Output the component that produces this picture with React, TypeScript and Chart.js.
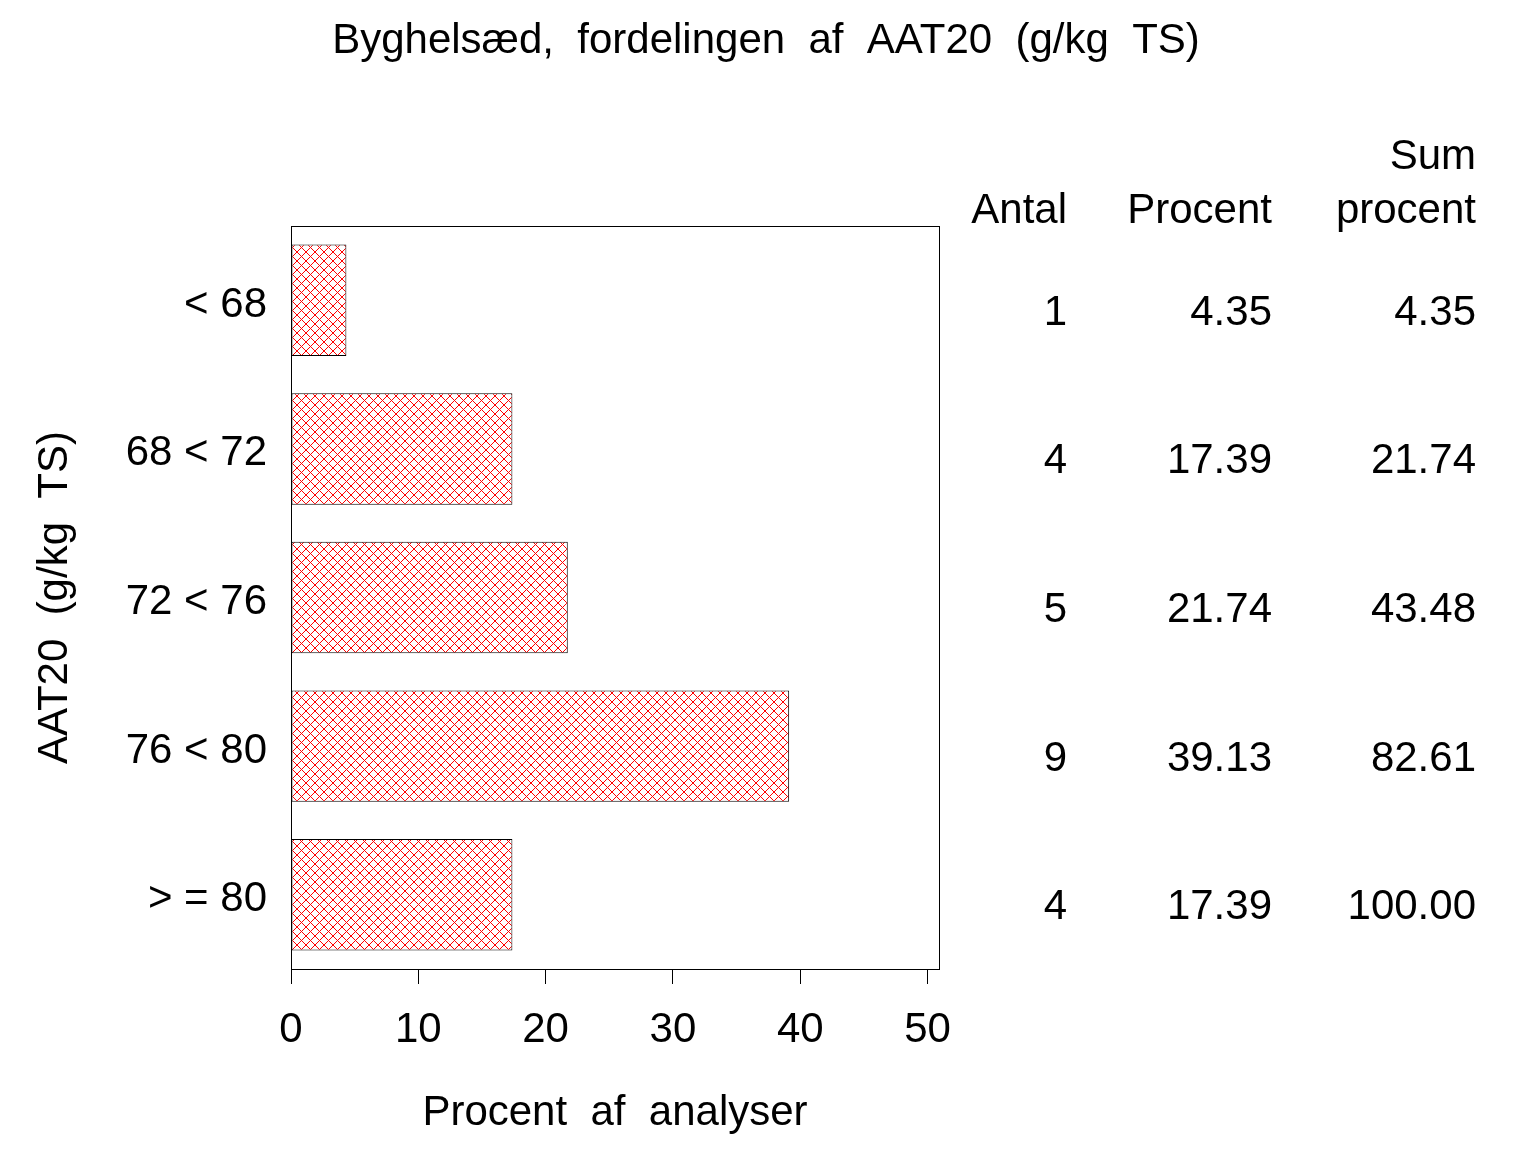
import { useEffect, useRef } from "react"
import { Chart, registerables } from "chart.js"

Chart.register(...registerables)

const categories = ["< 68", "68 < 72", "72 < 76", "76 < 80", "> = 80"]
const percent = [4.35, 17.39, 21.74, 39.13, 17.39]
const antal = ["1", "4", "5", "9", "4"]
const procentText = ["4.35", "17.39", "21.74", "39.13", "17.39"]
const sumProcentText = ["4.35", "21.74", "43.48", "82.61", "100.00"]
const xTicks = [0, 10, 20, 30, 40, 50]

const FONT = "'Liberation Sans', Arial, sans-serif"
const FONT_SIZE = 42

function makeHatch(): CanvasPattern | string {
  const c = document.createElement("canvas")
  c.width = 9
  c.height = 9
  const g = c.getContext("2d")
  if (!g) return "red"
  g.fillStyle = "#fff"
  g.fillRect(0, 0, 9, 9)
  g.strokeStyle = "#ff0000"
  g.lineWidth = 1
  g.beginPath()
  g.moveTo(-1, -1)
  g.lineTo(10, 10)
  g.moveTo(10, -1)
  g.lineTo(-1, 10)
  g.stroke()
  const p = g.createPattern(c, "repeat")
  return p || "red"
}

const framePlugin = {
  id: "frameAndTable",
  afterDraw(chart: any) {
    const { ctx, chartArea } = chart
    const yScale = chart.scales.y
    ctx.save()
    // frame round the plot area
    ctx.strokeStyle = "#000"
    ctx.lineWidth = 1
    ctx.strokeRect(chartArea.left + 0.5, chartArea.top + 0.5, chartArea.right - chartArea.left, chartArea.bottom - chartArea.top)

    ctx.fillStyle = "#000"
    ctx.font = `${FONT_SIZE}px ${FONT}`
    // title
    ctx.textAlign = "center"
    ctx.textBaseline = "middle"
    ctx.fillText("Byghelsæd,  fordelingen  af  AAT20  (g/kg  TS)", 766, 41)

    // table to the right
    const cols = [1067, 1272, 1476]
    ctx.textAlign = "right"
    ctx.fillText("Sum", cols[2], chartArea.top - 69)
    ctx.fillText("Antal", cols[0], chartArea.top - 15)
    ctx.fillText("Procent", cols[1], chartArea.top - 15)
    ctx.fillText("procent", cols[2], chartArea.top - 15)
    categories.forEach((_, i) => {
      const y = yScale.getPixelForValue(i) + 13
      ctx.fillText(antal[i], cols[0], y)
      ctx.fillText(procentText[i], cols[1], y)
      ctx.fillText(sumProcentText[i], cols[2], y)
    })
    ctx.restore()
  },
}

const App = () => {
  const chartRef = useRef<HTMLCanvasElement>(null)
  const chartInstance = useRef<Chart | null>(null)

  useEffect(() => {
    document.body.style.margin = "0"
    if (!chartRef.current) return
    if (chartInstance.current) chartInstance.current.destroy()
    const ctx = chartRef.current.getContext("2d")
    if (!ctx) return

    chartInstance.current = new Chart(ctx, {
      type: "bar",
      data: {
        labels: categories,
        datasets: [
          {
            data: percent,
            backgroundColor: makeHatch() as any,
            borderColor: "#000",
            borderWidth: 1,
            borderSkipped: false,
            barPercentage: 0.75,
            categoryPercentage: 1,
          },
        ],
      },
      options: {
        indexAxis: "y",
        animation: false,
        responsive: false,
        maintainAspectRatio: false,
        layout: { padding: { top: 226, right: 597, left: 0, bottom: 0 } },
        plugins: { legend: { display: false }, tooltip: { enabled: false }, title: { display: false } },
        scales: {
          x: {
            type: "linear",
            min: 0,
            max: 50.9,
            afterFit: (s: any) => {
              s.height = 183
            },
            afterBuildTicks: (s: any) => {
              s.ticks = xTicks.map((v) => ({ value: v }))
            },
            ticks: {
              color: "#000",
              font: { family: FONT, size: FONT_SIZE },
              padding: 21,
              maxRotation: 0,
            },
            grid: { drawOnChartArea: false, drawTicks: true, tickLength: 15, color: "#000" },
            border: { display: true, color: "#000" },
            title: {
              display: true,
              text: "Procent  af  analyser",
              color: "#000",
              font: { family: FONT, size: FONT_SIZE },
              padding: 13,
            },
          },
          y: {
            afterFit: (s: any) => {
              s.width = 291
            },
            ticks: {
              color: "#000",
              font: { family: FONT, size: FONT_SIZE },
              padding: 24,
              labelOffset: 5,
            },
            grid: { display: false, drawTicks: false },
            border: { display: true, color: "#000" },
            title: {
              display: true,
              text: "AAT20  (g/kg  TS)",
              color: "#000",
              font: { family: FONT, size: FONT_SIZE },
              padding: 30,
            },
          },
        },
      },
      plugins: [framePlugin],
    })

    return () => {
      if (chartInstance.current) {
        chartInstance.current.destroy()
        chartInstance.current = null
      }
    }
  }, [])

  return (
    <div style={{ width: 1536, height: 1152, background: "#fff" }}>
      <canvas ref={chartRef} width={1536} height={1152} style={{ width: 1536, height: 1152 }} />
    </div>
  )
}

export default App
